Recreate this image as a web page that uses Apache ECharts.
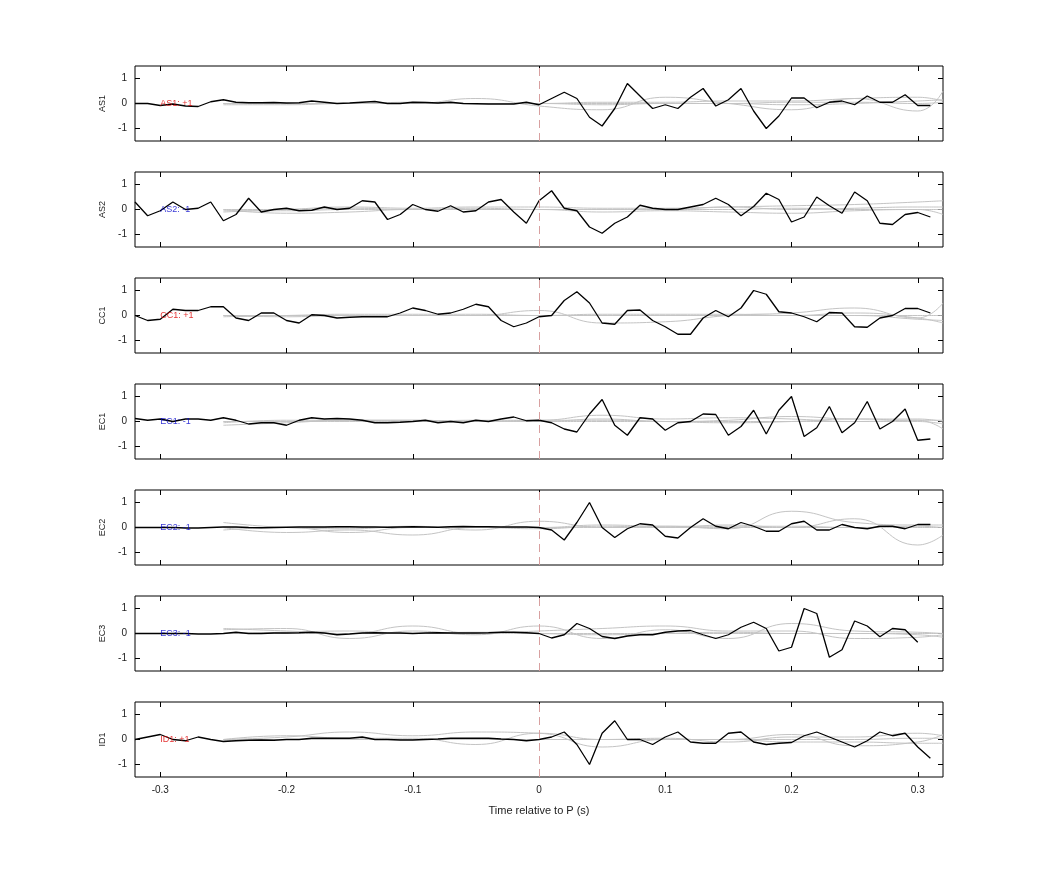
<!DOCTYPE html>
<html><head><meta charset="utf-8">
<script src="https://cdn.jsdelivr.net/npm/echarts@6/dist/echarts.min.js"></script>
<style>html,body{margin:0;padding:0;background:#fff}#c{width:1042px;height:875px}</style>
</head><body><div id="c"></div>
<script>
const stations = ["AS1","AS2","CC1","EC1","EC2","EC3","ID1"];
const polarity = ["+1","-1","+1","-1","-1","-1","+1"];
const tStart = -0.32, tStep = 0.01;
const AS1 = [0,0,-0.08,-0.02,-0.1,-0.12,0.07,0.15,0.05,0.03,0.03,0.04,0.02,0.03,0.1,0.05,0.0,0.02,0.05,0.08,0.0,0.0,0.05,0.04,0.02,0.05,0.0,-0.01,-0.02,-0.02,-0.02,0.05,-0.05,
 0.2,0.45,0.2,-0.55,-0.9,-0.2,0.8,0.3,-0.2,-0.05,-0.2,0.25,0.6,-0.1,0.15,0.6,-0.3,-1.0,-0.5,0.22,0.22,-0.17,0.05,0.1,-0.05,0.3,0.05,0.05,0.35,-0.08,-0.08];
const AS2 = [0.3,-0.25,-0.05,0.3,0.0,0.05,0.3,-0.45,-0.2,0.45,-0.1,0.0,0.05,-0.05,-0.03,0.1,0.0,0.05,0.35,0.3,-0.4,-0.2,0.2,0.0,-0.07,0.15,-0.1,-0.05,0.3,0.4,-0.1,-0.55,0.35,
 0.75,0.05,-0.05,-0.7,-0.95,-0.55,-0.3,0.17,0.05,0.0,0.0,0.1,0.2,0.45,0.2,-0.25,0.12,0.65,0.4,-0.5,-0.3,0.5,0.15,-0.15,0.7,0.35,-0.55,-0.6,-0.2,-0.12,-0.3];
const CC1 = [0.0,-0.2,-0.15,0.25,0.2,0.2,0.35,0.35,-0.1,-0.2,0.1,0.1,-0.2,-0.3,0.03,0.0,-0.1,-0.07,-0.05,-0.05,-0.05,0.1,0.3,0.2,0.05,0.1,0.25,0.45,0.35,-0.2,-0.45,-0.3,-0.05,
 0.0,0.6,0.95,0.5,-0.3,-0.35,0.2,0.22,-0.2,-0.45,-0.75,-0.75,-0.1,0.2,-0.05,0.3,1.0,0.85,0.15,0.1,-0.05,-0.25,0.12,0.1,-0.45,-0.47,-0.1,0.0,0.28,0.28,0.1];
const EC1 = [0.12,0.05,0.1,0.0,0.1,0.1,0.05,0.15,0.05,-0.1,-0.05,-0.05,-0.15,0.05,0.15,0.1,0.12,0.1,0.05,-0.05,-0.05,-0.03,0.0,0.05,-0.05,0.0,-0.05,0.05,0.0,0.1,0.18,0.03,0.05,
 -0.05,-0.3,-0.42,0.3,0.88,-0.15,-0.55,0.15,0.1,-0.35,-0.05,0.0,0.3,0.28,-0.55,-0.2,0.45,-0.5,0.45,1.0,-0.6,-0.25,0.6,-0.45,-0.05,0.8,-0.3,0.0,0.5,-0.75,-0.7];
const EC2 = [0,0,0,0,-0.02,-0.02,0.0,0.02,0.02,0.0,-0.01,0.0,0.01,0.02,0.02,0.02,0.03,0.03,0.02,0.02,0.01,0.02,0.03,0.02,0.01,0.03,0.04,0.03,0.03,0.02,0.02,0.02,0.0,
 -0.1,-0.5,0.2,1.0,0.0,-0.4,-0.05,0.15,0.1,-0.35,-0.42,0.0,0.35,0.05,-0.05,0.2,0.05,-0.15,-0.15,0.15,0.25,-0.1,-0.1,0.12,0.0,-0.05,0.05,0.05,-0.05,0.12,0.12];
const EC3 = [0,0,0,0,0,-0.02,-0.02,0.0,0.05,0.0,0.0,0.02,0.02,0.03,0.05,0.02,-0.05,-0.02,0.02,0.03,0.02,0.02,0.0,0.02,0.03,0.02,0.02,0.02,0.03,0.05,0.05,0.03,0.0,
 -0.18,-0.05,0.4,0.2,-0.12,-0.2,-0.1,-0.05,-0.05,0.05,0.1,0.12,-0.05,-0.2,-0.05,0.25,0.45,0.2,-0.7,-0.55,1.0,0.8,-0.95,-0.65,0.5,0.3,-0.13,0.2,0.15,-0.35];
const ID1 = [0.0,0.1,0.2,0.0,-0.05,0.1,0.0,-0.08,-0.05,-0.03,-0.02,-0.03,0.0,0.0,0.05,0.05,0.05,0.05,0.1,0.0,0.0,-0.02,-0.02,0.0,0.02,0.05,0.05,0.05,0.05,0.02,0.0,-0.05,0.0,
 0.1,0.3,-0.2,-1.0,0.25,0.75,0.0,0.0,-0.2,0.1,0.3,-0.1,-0.15,-0.15,0.25,0.3,-0.1,-0.2,-0.15,-0.12,0.15,0.3,0.1,-0.1,-0.3,-0.05,0.3,0.15,0.25,-0.3,-0.75];
const blackData = [AS1,AS2,CC1,EC1,EC2,EC3,ID1];
const grayT = [-0.25,-0.2,-0.15,-0.1,-0.05,0,0.05,0.1,0.15,0.2,0.25,0.3,0.32];
const grayAS1 = [[0,0,0,0,0.2,-0.1,-0.25,0.25,0,-0.25,0.2,-0.3,0.5],[0,0,0,0,0,0,0.05,0.05,0.1,0.1,0.2,0.25,0.1],[-0.05,-0.05,0,0,0,0,-0.05,0,0,0.05,0.05,0,0.05],[0,0,0,0.05,0,0,0,0,0,-0.05,0,0.1,0.15]];
const grayAS2 = [[-0.1,0,0.1,0.05,0.1,0.1,0.05,0.05,0.1,0.15,0.2,0.3,0.35],[0,-0.15,-0.1,0,0,0,-0.1,-0.05,-0.1,-0.15,-0.05,0,-0.2],[0,0,0.05,0,0.05,0,0,0,0.1,0,0.05,0.1,0.1],[-0.05,-0.05,0,0,0,0,0,0,0,0.05,0,0,0]];
const grayCC1 = [[0,0,0,0,0,0.2,-0.3,-0.25,0,0.1,0.3,-0.1,0.5],[-0.05,0,0.05,0.05,0.05,0,0.05,0.05,0.05,0,0.1,-0.1,-0.3],[0,-0.05,0,0,0,0,0,0,0,0,0,-0.15,-0.2],[0,0,0,0,0,0,0,0,0,0,0,0,0]];
const grayEC1 = [[-0.15,-0.05,0.05,0,0.05,0.05,0.25,0.1,0.15,0.1,0,0.05,-0.3],[0,0,0.05,0.05,0,0,0.1,0,0.05,0.2,0.1,0.1,0],[-0.05,0.05,0.05,0.05,0,0.05,0.05,0,-0.05,0,0.1,0.05,0.05],[0,0,0,0,0,0,0,0,0,0,0,0,-0.1]];
const grayEC2 = [[0.2,0,-0.05,0.05,-0.1,0.25,0,0.05,-0.05,0.65,0.2,0.1,0.1],[0,-0.2,-0.1,-0.3,0.0,-0.05,0.05,0,0.1,0,0.35,-0.7,-0.3],[-0.1,0,-0.2,0,0,0,0.1,0.05,0.05,0.05,0,0.05,0],[0,0,0,0,0,0,0,0,0,0,0,0,0]];
const grayEC3 = [[0.2,0.1,0,0.3,0,0.1,0.2,0.3,0.1,0.1,-0.2,-0.15,-0.05],[0.15,0.2,-0.2,0.1,-0.05,0.3,-0.2,0.15,-0.2,0.4,0.1,0.05,0],[0,0.05,0.1,0,0.05,0,-0.05,0,0.05,0,0,-0.05,-0.15],[0,0,0,0,0,0,0,0,0,0,0,0,0]];
const grayID1 = [[0,0.1,0.3,0.15,0.3,0.25,-0.3,0,0,0.2,-0.25,-0.1,0.2],[0,0.15,0.05,0.05,-0.2,0.25,0,0.05,-0.1,0.1,0.1,0.25,0.15],[-0.05,0,0,0,0,0,0,0,0,-0.1,-0.1,-0.15,-0.15],[0,0,0,0,0,0,0,0,0,0,0,0.05,0.05]];
const grayData = [grayAS1,grayAS2,grayCC1,grayEC1,grayEC2,grayEC3,grayID1];
const xTicks = [-0.3,-0.2,-0.1,0,0.1,0.2,0.3];
const yTicks = [-1,0,1];

const tops = [66,172,278,384,490,596,702];
const grids=[],xAxes=[],yAxes=[],series=[];
const fmt = v => (Math.abs(v)<1e-9 ? "0" : String(Math.round(v*10)/10));
const noLine = {show:false,onZero:false};
stations.forEach((s,i)=>{
  grids.push({left:135,right:99,top:tops[i],height:75,show:true,borderColor:'#000',borderWidth:1,backgroundColor:'#fff'});
  const last = i===6;
  xAxes.push({type:'value',gridIndex:i,min:-0.32,max:0.32,position:'bottom',
    axisLine:noLine,splitLine:{show:false},
    axisTick:{show:true,inside:true,length:5,customValues:xTicks,lineStyle:{color:'#000'}},
    axisLabel:{show:last,customValues:xTicks,formatter:fmt,color:'#222',fontSize:10,fontFamily:'Liberation Sans',margin:8},
    name: last?'Time relative to P (s)':'',nameLocation:'middle',nameGap:28,nameTextStyle:{fontSize:11,color:'#222',fontFamily:'Liberation Sans'}});
  xAxes.push({type:'value',gridIndex:i,min:-0.32,max:0.32,position:'top',
    axisLine:noLine,splitLine:{show:false},axisLabel:{show:false},
    axisTick:{show:true,inside:true,length:5,customValues:xTicks,lineStyle:{color:'#000'}}});
  yAxes.push({type:'value',gridIndex:i,min:-1.5,max:1.5,position:'left',
    axisLine:noLine,splitLine:{show:false},
    axisTick:{show:true,inside:true,length:5,customValues:yTicks,lineStyle:{color:'#000'}},
    axisLabel:{customValues:yTicks,color:'#222',fontSize:10,fontFamily:'Liberation Sans',margin:8},
    name:s,nameLocation:'middle',nameGap:28,nameRotate:90,nameTextStyle:{fontSize:9,color:'#222',fontFamily:'Liberation Sans'}});
  yAxes.push({type:'value',gridIndex:i,min:-1.5,max:1.5,position:'right',
    axisLine:noLine,splitLine:{show:false},axisLabel:{show:false},
    axisTick:{show:true,inside:true,length:5,customValues:yTicks,lineStyle:{color:'#000'}}});
  grayData[i].forEach(g=>{
    series.push({type:'line',xAxisIndex:2*i,yAxisIndex:2*i,data:grayT.map((t,k)=>[t,g[k]]),
      smooth:0.5,symbol:'none',lineStyle:{color:'#c4c4c4',width:1},silent:true,z:2});
  });
  const b = blackData[i].map((v,k)=>[+(tStart+k*tStep).toFixed(2),v]);
  series.push({type:'line',xAxisIndex:2*i,yAxisIndex:2*i,data:b,symbol:'none',
    lineStyle:{color:'#000',width:1.3},z:4,
    markLine:{silent:true,symbol:'none',label:{show:false},lineStyle:{color:'#d8a0a0',type:[8,5],width:1},data:[{xAxis:0}]}});
  const isPos = polarity[i]==='+1';
  series.push({type:'scatter',xAxisIndex:2*i,yAxisIndex:2*i,data:[[-0.3,0]],symbolSize:0,z:5,
    label:{show:true,position:'right',distance:0,formatter:s+': '+polarity[i],color:isPos?'#d00':'#00c',fontSize:9,fontFamily:'Liberation Sans'}});
});
const chart = echarts.init(document.getElementById('c'),null,{renderer:'canvas'});
chart.setOption({animation:false,backgroundColor:'#fff',grid:grids,xAxis:xAxes,yAxis:yAxes,series:series});
</script></body></html>
